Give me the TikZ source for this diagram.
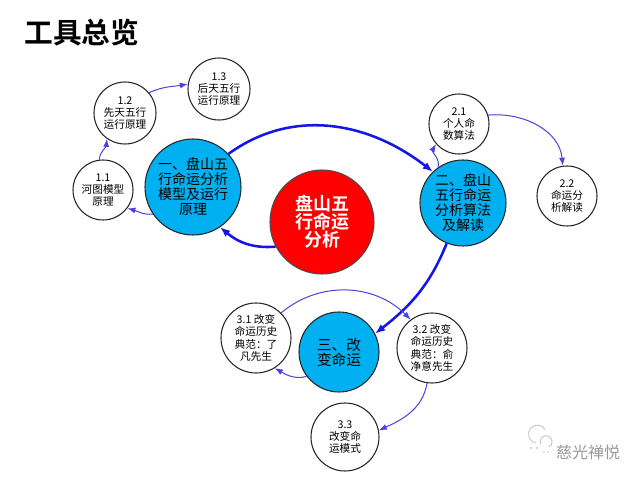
\documentclass[tikz,border=0pt]{standalone}
\usepackage{fontspec}
\setmainfont{Noto Sans CJK SC}[BoldFont={Noto Sans CJK SC Bold}]
\usetikzlibrary{arrows.meta}

\definecolor{topicblue}{RGB}{0,176,240}
\definecolor{corered}{RGB}{255,0,0}
\definecolor{linkblue}{RGB}{20,20,235}
\definecolor{thinblue}{RGB}{75,65,225}

\begin{document}
\begin{tikzpicture}[x=0.75pt, y=-0.75pt,
  bubble/.style={circle, draw=black!85, line width=0.8pt, fill=white, inner sep=0pt, align=center, font=\fontsize{8}{9.2}\selectfont},
  topic/.style={circle, draw=black!85, line width=0.8pt, fill=topicblue, inner sep=0pt, align=center, font=\fontsize{10.5}{11.3}\selectfont},
  core/.style={circle, draw=black!70, line width=0.8pt, fill=corered, text=white, inner sep=0pt, align=center, font=\bfseries\fontsize{13.5}{13.5}\selectfont}]

\useasboundingbox[fill=white] (0,0) rectangle (640,481);

\node (title) at (82,33) {\bfseries\fontsize{21.5}{22}\selectfont 工具总览};

% main circles
\node [core, minimum size=78pt] (core) at (322,222) {盘山五\\行命运\\分析};
\node [topic, minimum size=72pt] (t1) at (193,187) {一、盘山五\\行命运分析\\模型及运行\\原理};
\node [topic, minimum size=64.5pt] (t2) at (463,203) {二、盘山\\五行命运\\分析算法\\及解读};
\node [topic, minimum size=60pt, font=\fontsize{11}{11.3}\selectfont] (t3) at (339,352) {三、改\\变命运};

% small circles
\node [bubble, minimum size=45pt] (s11) at (103,190) {1.1\\河图模型\\原理};
\node [bubble, minimum size=46.5pt] (s12) at (125,113) {1.2\\先天五行\\运行原理};
\node [bubble, minimum size=46.5pt] (s13) at (219,89) {1.3\\后天五行\\运行原理};
\node [bubble, minimum size=45pt] (s21) at (459,124) {2.1\\个人命\\数算法};
\node [bubble, minimum size=45pt] (s22) at (567,196) {2.2\\命运分\\析解读};
\node [bubble, minimum size=52.5pt] (s31) at (256,338) {3.1 改变\\命运历史\\典范：了\\凡先生};
\node [bubble, minimum size=52.5pt] (s32) at (432,348) {3.2 改变\\命运历史\\典范：俞\\净意先生};
\node [bubble, minimum size=51pt] (s33) at (345,437) {3.3\\改变命\\运模式};

\begin{scope}[linkblue, line width=1.9pt, -{Latex[length=7.5pt,width=6pt]}]
\draw (core.208) to[out=185,in=-40] (t1.304);
\draw (t1.43) to[out=36,in=142] (t2.134);
\draw (t2.248) to[out=-112,in=38] (t3.27);
\end{scope}

\begin{scope}[thinblue, line width=0.75pt, -{Latex[length=6pt,width=4.5pt]}]
\draw (t1.214) to[out=185,in=-15] (s11.-37);
\draw (s11.97) to[out=85,in=-95] (s12.235);
\draw (s12.40) to[out=25,in=190] (s13.171);
\draw (t2.125) to[out=75,in=-120] (s21.221);
\draw (s21.17) to[out=5,in=95] (s22.98);
\draw (t3.217) to[out=195,in=-30] (s31.-58);
\draw (s31.45) to[out=40,in=135] (s32.127);
\draw (s32.262) to[out=-100,in=25] (s33.11);
\end{scope}

% watermark
\draw [black!22, line width=0.7pt] (536,443) arc (100:330:9);
\draw [black!22, line width=0.7pt] (549,447) arc (60:-200:6);
\fill [black!22] (531,448) circle (1.1) (537,448) circle (1.1) (544,452) circle (0.9) (548,452) circle (0.9);
\node [text=black!40, font=\fontsize{12}{12}\selectfont] (mark) at (588,452) {慈光禅悦};

\end{tikzpicture}
\end{document}
